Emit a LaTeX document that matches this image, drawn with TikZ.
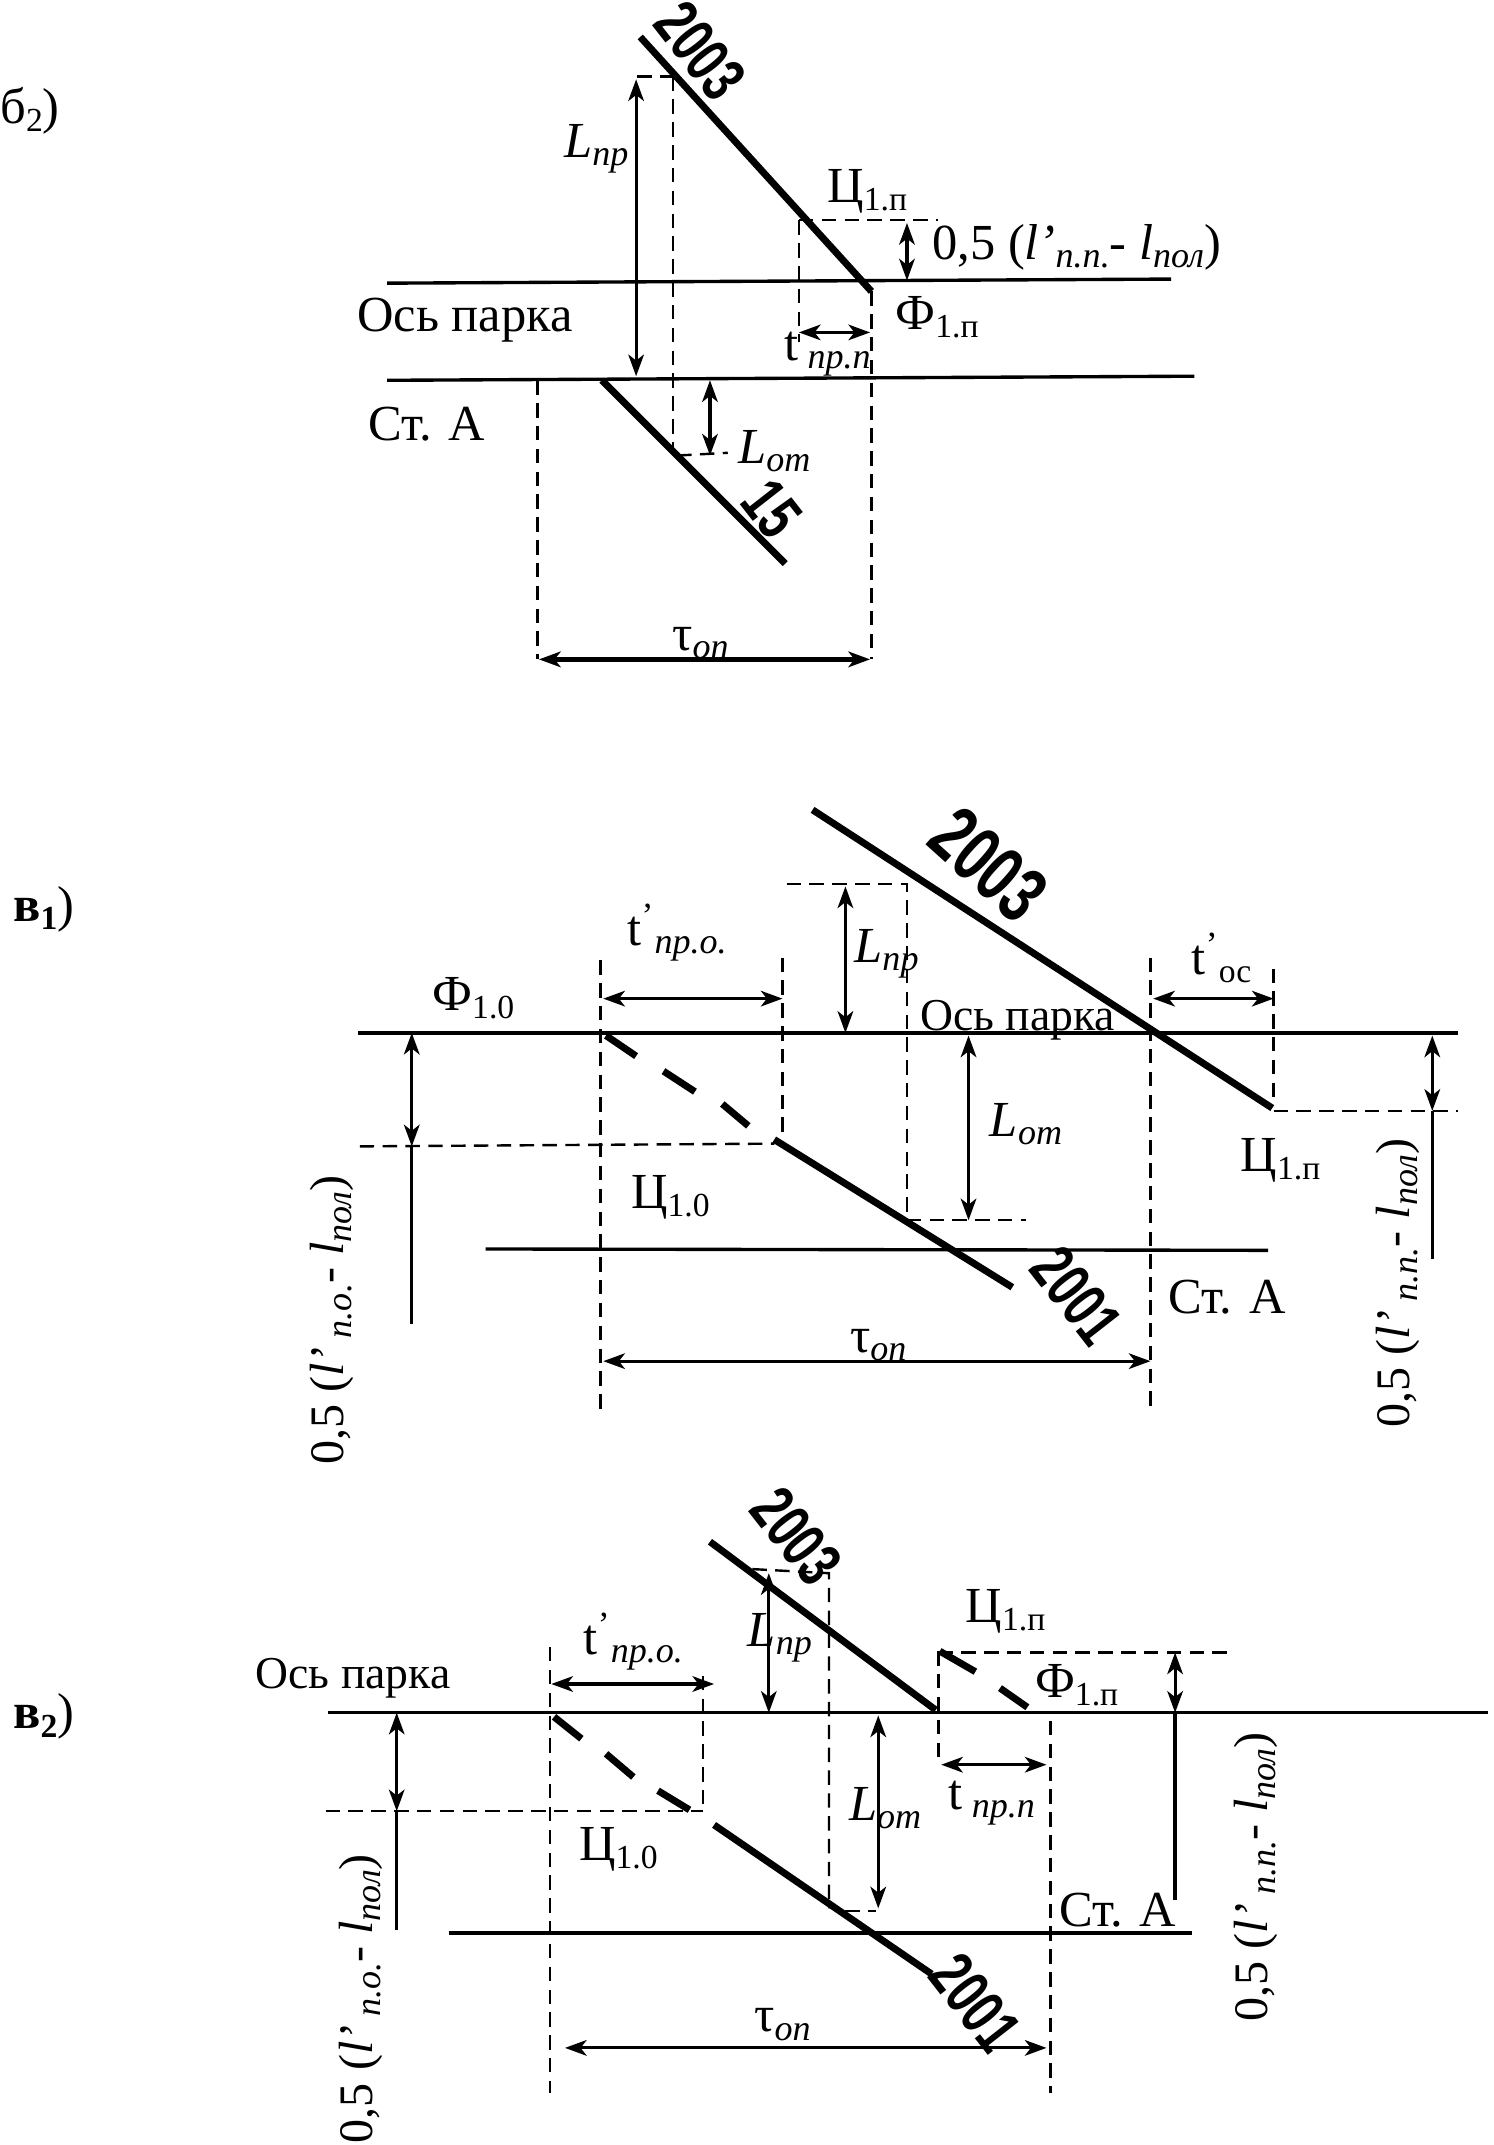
\documentclass[tikz,border=0pt]{standalone}
\usepackage{fontspec}
\usetikzlibrary{arrows.meta}
\setmainfont{Liberation Serif}
\newfontfamily\numfont[FakeStretch=0.7]{Liberation Sans}
\newcommand{\low}[1]{\raisebox{-0.35ex}{\fontsize{15}{15}\selectfont\itshape #1}}
\newcommand{\lowup}[1]{\raisebox{-0.35ex}{\fontsize{14}{14}\selectfont #1}}
\tikzset{
  train/.style={line width=2.9pt},
  track/.style={line width=1.4pt},
  guide/.style={line width=1pt, dash pattern=on 6pt off 3.5pt},
  dim/.style={line width=1.3pt, <->},
  lbl/.style={font=\fontsize{21}{24}\selectfont, inner sep=0pt},
  smalllbl/.style={font=\fontsize{19}{22}\selectfont, inner sep=0pt},
  sidelbl/.style={font=\fontsize{20}{22}\selectfont, inner sep=0pt, rotate=90},
  num/.style={font=\numfont\bfseries\fontsize{27}{29}\selectfont, inner sep=0pt},
}
\begin{document}
\begin{tikzpicture}[x=0.02cm, y=-0.02cm, >={Stealth[length=9pt, width=6.5pt, inset=2.5pt]}]
  \useasboundingbox (0,0) rectangle (1092,1568);
  \fill[white] (0,0) rectangle (1092,1568);

  \node[lbl] (b2) at (22,81) {б\lowup{2})};
  \draw[track] (283,207) -- (856,204);
  \draw[track] (283,278) -- (873,275);
  \draw[train] (468,27) -- (637,213);
  \draw[train] (440,278) -- (574,412);
  \draw[guide] (466,56) -- (495,56);
  \draw[guide] (492,56) -- (492,330);
  \draw[guide] (495,333) -- (532,331);
  \draw[guide] (584,161) -- (686,161);
  \draw[guide] (584,161) -- (584,250);
  \draw[guide] (637,213) -- (637,482);
  \draw[guide] (393,278) -- (393,482);
  \draw[dim] (465,58) -- (465,275);
  \draw[dim] (519,278) -- (519,333);
  \draw[dim] (663,163) -- (663,205);
  \draw[dim] (584,243) -- (636,243);
  \draw[dim, line width=1.8pt] (394,482) -- (636,482);
  \node[num, rotate=-52] (b2003) at (512,37) {2003};
  \node[num, rotate=-52] (b15) at (564,372) {15};
  \node[lbl] (bLnp) at (436,109) {\textit{L}\low{пр}};
  \node[lbl] (bLot) at (566,330) {\textit{L}\low{от}};
  \node[lbl] (bC) at (634,140) {Ц\lowup{1.п}};
  \node[lbl] (bF) at (685,232) {Ф\lowup{1.п}};
  \node[lbl] (bhalf) at (787,181) {0,5 (\textit{l'}\low{п.п.}- \textit{l}\low{пол})};
  \node[lbl] (baxis) at (340,234) {Ось парка};
  \node[lbl] (bst) at (312,310) {Ст. А};
  \node[lbl] (btp) at (605,259) {t\low{ пр.п}};
  \node[lbl] (btau) at (512,470) {τ\low{оп}};

  \node[lbl] (v1) at (32,665) {\textbf{в}\lowup{\textbf{1}})};
  \draw[track] (262,755) -- (1066,755);
  \draw[track] (355,913) -- (927,914);
  \draw[train] (594,592) -- (930,810);
  \draw[train] (443,757) -- (465,772);
  \draw[train] (485,783) -- (508,798);
  \draw[train] (528,807) -- (547,823);
  \draw[train] (566,833) -- (740,941);
  \draw[guide] (263,838) -- (566,836);
  \draw[guide] (439,702) -- (439,1032);
  \draw[guide] (572,700) -- (572,833);
  \draw[guide] (575,646) -- (663,646) -- (663,892) -- (750,892);
  \draw[guide] (841,700) -- (841,1032);
  \draw[guide] (931,708) -- (931,808);
  \draw[guide] (931,812) -- (1066,812);
  \draw[dim] (441,730) -- (572,730);
  \draw[dim] (618,648) -- (618,755);
  \draw[dim] (708,757) -- (708,892);
  \draw[dim] (843,730) -- (931,730);
  \draw[dim] (441,995) -- (841,995);
  \draw[dim] (301,755) -- (301,838);
  \draw[track] (301,838) -- (301,968);
  \draw[dim] (1047,757) -- (1047,812);
  \draw[track] (1047,812) -- (1047,920);
  \node[num, rotate=-42, font=\numfont\bfseries\fontsize{33}{35}\selectfont] (v2003) at (723,632) {2003};
  \node[num, rotate=-52] (v2001) at (787,947) {2001};
  \node[lbl] (vF) at (346,730) {Ф\lowup{1.0}};
  \node[lbl] (vC) at (490,875) {Ц\lowup{1.0}};
  \node[lbl] (vCp) at (936,848) {Ц\lowup{1.п}};
  \node[lbl] (vtp) at (495,682) {t\textsuperscript{'}\low{пр.о.}};
  \node[lbl] (vLnp) at (648,697) {\textit{L}\low{пр}};
  \node[lbl] (vLot) at (750,822) {\textit{L}\low{от}};
  \node[lbl] (vtos) at (893,700) {t\textsuperscript{'}\lowup{ос}};
  \node[smalllbl] (vaxis) at (744,746) {Ось парка};
  \node[lbl] (vst) at (897,948) {Ст. А};
  \node[lbl] (vtau) at (642,983) {τ\low{оп}};
  \node[sidelbl] (vhl) at (243,965) {0,5 (\textit{l'}\low{ п.о.}- \textit{l}\low{пол})};
  \node[sidelbl] (vhr) at (1022,938) {0,5 (\textit{l'}\low{ п.п.}- \textit{l}\low{пол})};

  \node[lbl] (w2) at (32,1255) {\textbf{в}\lowup{\textbf{2}})};
  \draw[track] (240,1252) -- (1088,1252);
  \draw[track] (328,1413) -- (871,1413);
  \draw[train] (519,1127) -- (684,1250);
  \draw[train] (687,1207) -- (713,1222);
  \draw[train] (731,1234) -- (751,1248);
  \draw[train] (405,1255) -- (425,1271);
  \draw[train] (443,1282) -- (463,1299);
  \draw[train] (481,1309) -- (504,1323);
  \draw[train] (522,1334) -- (681,1443);
  \draw[guide] (238,1324) -- (514,1324);
  \draw[guide] (402,1204) -- (402,1530);
  \draw[guide] (514,1225) -- (514,1325);
  \draw[guide] (550,1147) -- (606,1150) -- (606,1395);
  \draw[guide] (618,1397) -- (640,1397);
  \draw[guide] (686,1207) -- (686,1285);
  \draw[guide] (686,1208) -- (900,1208);
  \draw[guide] (768,1258) -- (768,1530);
  \draw[dim] (403,1231) -- (522,1231);
  \draw[dim] (562,1150) -- (562,1252);
  \draw[dim] (642,1254) -- (642,1395);
  \draw[dim] (688,1290) -- (765,1290);
  \draw[dim] (413,1497) -- (765,1497);
  \draw[dim] (290,1252) -- (290,1324);
  \draw[track] (290,1324) -- (290,1411);
  \draw[dim] (859,1208) -- (859,1252);
  \draw[track] (859,1252) -- (859,1389);
  \node[num, rotate=-52] (w2003) at (582,1123) {2003};
  \node[num, rotate=-52] (w2001) at (713,1464) {2001};
  \node[smalllbl] (waxis) at (258,1227) {Ось парка};
  \node[lbl] (wtp) at (463,1200) {t\textsuperscript{'}\low{пр.о.}};
  \node[lbl] (wLnp) at (570,1197) {\textit{L}\low{пр}};
  \node[lbl] (wLot) at (647,1322) {\textit{L}\low{от}};
  \node[lbl] (wCp) at (735,1178) {Ц\lowup{1.п}};
  \node[lbl] (wFp) at (787,1232) {Ф\lowup{1.п}};
  \node[lbl] (wC) at (452,1352) {Ц\lowup{1.0}};
  \node[lbl] (wtn) at (725,1318) {t\low{ пр.п}};
  \node[lbl] (wst) at (817,1396) {Ст. А};
  \node[lbl] (wtau) at (572,1480) {τ\low{оп}};
  \node[sidelbl] (whl) at (264,1461) {0,5 (\textit{l'}\low{ п.о.}- \textit{l}\low{пол})};
  \node[sidelbl] (whr) at (918,1372) {0,5 (\textit{l'}\low{ п.п.}- \textit{l}\low{пол})};
\end{tikzpicture}
\end{document}
